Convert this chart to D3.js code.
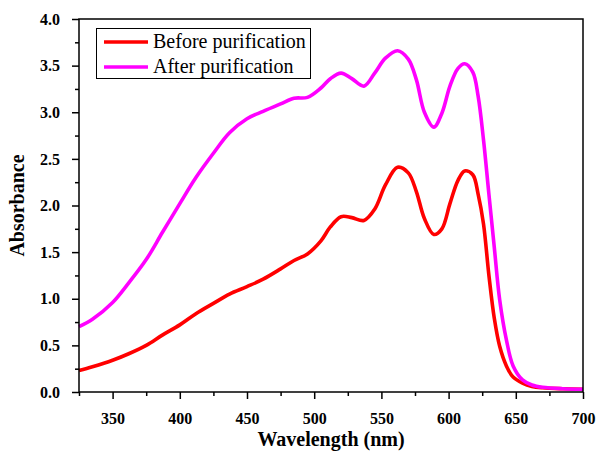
<!DOCTYPE html>
<html><head><meta charset="utf-8">
<script src="https://cdn.jsdelivr.net/npm/d3@7"></script>
<style>body{margin:0;background:#fff}svg{display:block}
svg text{font-family:"Liberation Serif","Times New Roman",Times,serif;}</style>
</head><body>
<svg id="c" width="598" height="454"></svg>
<script>
const wavelengths = [325,335,350,362,375,387,400,412,425,437,450,462,475,485,495,505,512,520,528,537,545,553,562,570,576,582,589,595,601,607,612,618,622,626,630,634,638,643,648,655,662,670,685,700];
const beforeVals = [0.23,0.27,0.34,0.41,0.50,0.61,0.72,0.84,0.95,1.05,1.13,1.21,1.32,1.41,1.48,1.62,1.77,1.88,1.87,1.84,1.96,2.22,2.41,2.35,2.15,1.86,1.69,1.75,2.02,2.27,2.37,2.33,2.12,1.80,1.25,0.79,0.49,0.28,0.16,0.095,0.06,0.045,0.035,0.03];
const afterVals = [0.70,0.78,0.96,1.17,1.42,1.71,2.02,2.30,2.56,2.78,2.93,3.01,3.09,3.15,3.16,3.26,3.36,3.42,3.36,3.28,3.42,3.58,3.66,3.57,3.35,3.00,2.84,2.99,3.28,3.47,3.52,3.43,3.17,2.70,2.12,1.55,0.99,0.56,0.28,0.13,0.075,0.05,0.035,0.03];
const seriesNames = ["Before purification","After purification"];
const seriesColors = ["#ff0000","#ff00ff"];
const xTicks = [350,400,450,500,550,600,650,700];
const yTicks = [0.0,0.5,1.0,1.5,2.0,2.5,3.0,3.5,4.0];

const svg = d3.select("#c");
const L=79,R=583,T=19,B=392;
const x = d3.scaleLinear().domain([325,700]).range([L,R]);
const y = d3.scaleLinear().domain([0,4]).range([B,T]);

// series
const series = [beforeVals, afterVals];
const line = d3.line().x((d,i)=>x(wavelengths[i])).y(d=>y(d)).curve(d3.curveCatmullRom.alpha(0.5));
series.forEach((vals,k)=>{
  svg.append("path").attr("d", line(vals)).attr("fill","none")
    .attr("stroke", seriesColors[k]).attr("stroke-width",3.6).attr("stroke-linejoin","round");
});

// frame
svg.append("rect").attr("x",L).attr("y",T).attr("width",R-L).attr("height",B-T)
  .attr("fill","none").attr("stroke","#000").attr("stroke-width",1.5);

// x axis
const xMinor = d3.range(325,701,25).filter(v=>!xTicks.includes(v));
const gx = svg.append("g").attr("transform",`translate(0,${B})`);
gx.call(d3.axisBottom(x).tickValues(xMinor).tickSize(4).tickFormat(""));
const gx2 = svg.append("g").attr("transform",`translate(0,${B})`);
gx2.call(d3.axisBottom(x).tickValues(xTicks).tickSize(7).tickPadding(14).tickFormat(d3.format("d")));
[gx,gx2].forEach(g=>{g.select(".domain").remove(); g.selectAll("line").attr("stroke-width",1.5);});
gx2.selectAll("text").style("font-size","16px").style("font-weight","bold").attr("fill","#000");

// y axis
const yMinor = d3.range(0.25,4,0.5);
const gy = svg.append("g").attr("transform",`translate(${L},0)`);
gy.call(d3.axisLeft(y).tickValues(yMinor).tickSize(4).tickFormat(""));
const gy2 = svg.append("g").attr("transform",`translate(${L},0)`);
gy2.call(d3.axisLeft(y).tickValues(yTicks).tickSize(7).tickPadding(12).tickFormat(d3.format(".1f")));
[gy,gy2].forEach(g=>{g.select(".domain").remove(); g.selectAll("line").attr("stroke-width",1.5);});
gy2.selectAll("text").style("font-size","16px").style("font-weight","bold").attr("fill","#000");
svg.selectAll("g").attr("font-family",null);

// axis titles
svg.append("text").attr("x",331).attr("y",446).attr("text-anchor","middle")
  .style("font-size","20px").style("font-weight","bold").text("Wavelength (nm)");
svg.append("text").attr("transform",`translate(24,${(T+B)/2}) rotate(-90)`).attr("text-anchor","middle")
  .style("font-size","20px").style("font-weight","bold").text("Absorbance");

// legend
const lg = svg.append("g");
lg.append("rect").attr("x",96.5).attr("y",28.5).attr("width",214).attr("height",50)
  .attr("fill","#fff").attr("stroke","#000").attr("stroke-width",1);
seriesNames.forEach((n,k)=>{
  const yy = 42 + k*25;
  lg.append("line").attr("x1",104).attr("x2",148).attr("y1",yy).attr("y2",yy)
    .attr("stroke",seriesColors[k]).attr("stroke-width",3.6);
  lg.append("text").attr("x",153).attr("y",yy+6).style("font-size","20px")
    .attr("fill","#000").text(n);
});
</script>
</body></html>
